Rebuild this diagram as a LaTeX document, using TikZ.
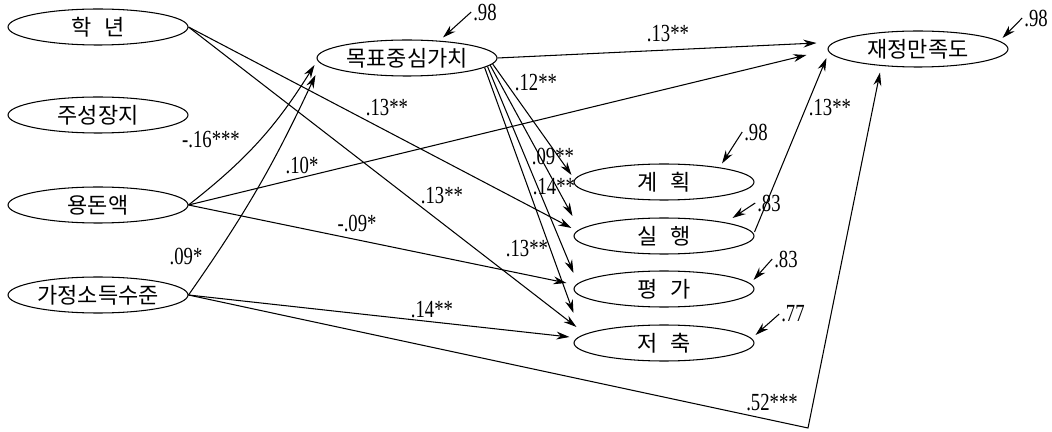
\documentclass[tikz,border=0pt]{standalone}
\usepackage{fontspec}
\setmainfont{Liberation Serif}
\newfontfamily\kor{Noto Sans CJK KR}
\newfontfamily\coeffont[FakeStretch=0.76]{Liberation Serif}
\usetikzlibrary{arrows.meta, shapes.geometric}
% text of a variable, kept out of the ellipse size
\newcommand{\vlab}[1]{\makebox[0pt]{\raisebox{-.38em}[0pt][0pt]{#1}}}
\newcommand{\gap}{\hspace{0.55em}}

\begin{document}
\begin{tikzpicture}[x=0.02cm, y=-0.02cm, >={Stealth[length=7.5pt, width=4.5pt]},
  var/.style={ellipse, draw, line width=0.6pt, minimum width=3.6cm,
    minimum height=0.72cm, inner sep=0pt, font=\kor\fontsize{12.5}{12.5}\selectfont},
  coef/.style={inner sep=1pt, font=\coeffont\fontsize{14}{14}\selectfont},
  link/.style={->, line width=0.6pt}]
  \useasboundingbox (0,0) rectangle (1052,432);

  % exogenous variables
  \node[var] (hak)  at (98,27)  {\vlab{학\gap 년}};
  \node[var] (ju)   at (98,115) {\vlab{주성장지}};
  \node[var] (yong) at (98,205) {\vlab{용돈액}};
  \node[var] (ga)   at (98,295) {\vlab{가정소득수준}};

  % mediator and outcomes
  \node[var] (mok) at (407,58)  {\vlab{목표중심가치}};
  \node[var] (jae) at (918,49)  {\vlab{재정만족도}};
  \node[var] (kye) at (664,182) {\vlab{계\gap 획}};
  \node[var] (sil) at (664,236) {\vlab{실\gap 행}};
  \node[var] (pye) at (664,289) {\vlab{평\gap 가}};
  \node[var] (jeo) at (664,343) {\vlab{저\gap 축}};
  \coordinate (bend) at (808,428);

  % paths
  \draw[link] (hak.east) -- ([shift={(-2,-8)}]sil.west);
  \draw[link] (hak.east) -- ([shift={(3,-16)}]jeo.west);
  \draw[link] (yong.east) to[bend right=10] ([shift={(-2,7)}]mok.west);
  \draw[link] (ga.east) to[bend right=5] ([shift={(-1,17)}]mok.west);
  \draw[link] (yong.east) -- ([shift={(-21,6)}]jae.west);
  \draw[link] (yong.east) -- ([shift={(-7,-6)}]pye.west);
  \draw[link] (ga.east) -- ([shift={(-4,-6)}]jeo.west);
  \draw[link] (ga.east) -- (bend) -- ([shift={(-38,5)}]jae.south);
  \draw[link] (mok.east) -- ([shift={(-11,-6)}]jae.west);
  \draw[link] (mok.-4) -- ([shift={(-2,-7)}]kye.west);
  \draw[link] (mok.-5) -- ([shift={(-1,-20)}]sil.west);
  \draw[link] (mok.-6) -- ([shift={(0,-16)}]pye.west);
  \draw[link] (mok.-7) -- ([shift={(0,-30)}]jeo.west);
  \draw[link] ([shift={(0,-4)}]sil.east) -- ([shift={(-1,9)}]jae.west);

  % coefficients
  \node[coef] (c1)  at (387,108) {.13**};
  \node[coef] (c2)  at (442,196) {.13**};
  \node[coef] (c3)  at (211,140) {-.16***};
  \node[coef] (c4)  at (302,165) {.10*};
  \node[coef] (c5)  at (186,256) {.09*};
  \node[coef] (c6)  at (357,223) {-.09*};
  \node[coef] (c7)  at (432,310) {.14**};
  \node[coef] (c8)  at (772,403) {.52***};
  \node[coef] (c9)  at (668,34)  {.13**};
  \node[coef] (c10) at (536,83)  {.12**};
  \node[coef] (c11) at (553,156) {.09**};
  \node[coef] (c12) at (554,187) {.14**};
  \node[coef] (c13) at (527,249) {.13**};
  \node[coef] (c14) at (830,108) {.13**};

  % residuals
  \node[coef] (rmok) at (485,12)   {.98};
  \node[coef] (rjae) at (1036,18)  {.98};
  \node[coef] (rkye) at (756,132)  {.98};
  \node[coef] (rsil) at (769,203)  {.83};
  \node[coef] (rpye) at (786,259)  {.83};
  \node[coef] (rjeo) at (793,314)  {.77};
  \draw[link] (rmok.west) -- ([shift={(36,-2)}]mok.north);
  \draw[link] (rjae.west) -- ([shift={(-6,-11)}]jae.east);
  \draw[link] (rkye.west) -- ([shift={(58,0)}]kye.north);
  \draw[link] (rsil.west) -- ([shift={(-22,-18)}]sil.east);
  \draw[link] (rpye.west) -- ([shift={(-1,-9)}]pye.east);
  \draw[link] (rjeo.west) -- ([shift={(1,-8)}]jeo.east);
\end{tikzpicture}
\end{document}
